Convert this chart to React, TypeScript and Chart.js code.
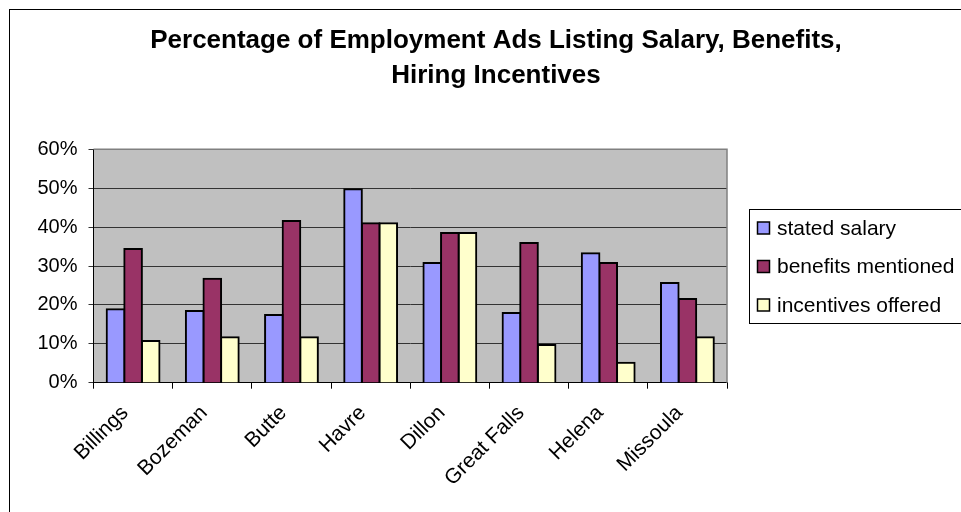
import React, { useEffect, useRef } from 'react';
import { Chart, registerables } from 'chart.js';

Chart.register(...registerables);

const categories = ['Billings', 'Bozeman', 'Butte', 'Havre', 'Dillon', 'Great Falls', 'Helena', 'Missoula'];
const statedSalary = [18.9, 18.4, 17.4, 49.7, 30.8, 17.9, 33.3, 25.6];
const benefitsMentioned = [34.4, 26.7, 41.6, 41.0, 38.5, 35.9, 30.8, 21.5];
const incentivesOffered = [10.7, 11.7, 11.7, 41.0, 38.5, 9.7, 5.1, 11.7];
const seriesLabels = ['stated salary', 'benefits mentioned', 'incentives offered'];
const seriesColors = ['#9999FF', '#993366', '#FFFFCC'];
const titleLines = ['Percentage of Employment Ads Listing Salary, Benefits,', 'Hiring Incentives'];
const yMin = 0;
const yMax = 60;
const yStep = 10;

const FONT = '"Liberation Sans", Arial, sans-serif';

const framePlugin = {
  id: 'framePlugin',
  beforeDraw(chart: any) {
    const { ctx, chartArea: a } = chart;
    ctx.save();
    ctx.fillStyle = '#ffffff';
    ctx.fillRect(0, 0, chart.width, chart.height);
    ctx.fillStyle = '#C0C0C0';
    ctx.fillRect(a.left, a.top, a.right - a.left, a.bottom - a.top);
    ctx.restore();
  },
  afterDraw(chart: any) {
    const { ctx, chartArea: a } = chart;
    ctx.save();
    ctx.strokeStyle = '#808080';
    ctx.lineWidth = 1.5;
    ctx.beginPath();
    ctx.moveTo(a.left, a.top);
    ctx.lineTo(a.right, a.top);
    ctx.lineTo(a.right, a.bottom);
    ctx.stroke();
    // outer chart border
    ctx.strokeStyle = '#000';
    ctx.lineWidth = 1;
    ctx.strokeRect(9.5, 9.5, chart.width, chart.height);
    // legend
    const lx = 749.5;
    const ly = 209.5;
    ctx.strokeRect(lx, ly, chart.width, 114);
    ctx.font = '21px ' + FONT;
    ctx.textBaseline = 'middle';
    ctx.textAlign = 'left';
    chart.data.datasets.forEach((ds: any, i: number) => {
      const cy = 228 + i * 38.5;
      ctx.fillStyle = ds.backgroundColor;
      ctx.fillRect(757.5, cy - 6, 12, 12);
      ctx.strokeStyle = '#000';
      ctx.lineWidth = 1.5;
      ctx.strokeRect(757.5, cy - 6, 12, 12);
      ctx.fillStyle = '#000';
      ctx.fillText(ds.label, 777, cy + 1);
    });
    ctx.restore();
  },
};

export default function App() {
  const ref = useRef<HTMLCanvasElement | null>(null);

  useEffect(() => {
    if (!ref.current) return;
    Chart.defaults.font.family = FONT;
    const seriesValues = [statedSalary, benefitsMentioned, incentivesOffered];
    const chart = new Chart(ref.current, {
      type: 'bar',
      data: {
        labels: categories,
        datasets: seriesValues.map((vals, i) => ({
          label: seriesLabels[i],
          data: vals,
          backgroundColor: seriesColors[i],
          borderColor: '#000',
          borderWidth: 2,
          inflateAmount: 1,
          barPercentage: 1,
          categoryPercentage: 0.667,
          yAxisID: 'y',
        })),
      },
      options: {
        responsive: false,
        animation: false,
        layout: { padding: { left: 31, right: 0, top: 0, bottom: 0 } },
        plugins: {
          legend: { display: false },
          tooltip: { enabled: false },
          title: {
            display: true,
            text: titleLines,
            color: '#000',
            font: { size: 26, weight: 'bold', family: FONT, lineHeight: 35 / 26 },
            padding: { top: 23.5, bottom: 55.8 },
          },
        },
        scales: {
          x: {
            grid: {
              display: true,
              drawOnChartArea: false,
              drawTicks: true,
              tickLength: 6,
              color: '#000',
              offset: true,
            },
            border: { display: true, color: '#000', width: 1 },
            ticks: {
              autoSkip: false,
              maxRotation: 45,
              minRotation: 45,
              color: '#000',
              font: { size: 21, family: FONT },
              padding: 12,
              labelOffset: -8,
            },
            afterFit(s: any) {
              s.height = 129.3;
            },
          },
          y: {
            min: yMin,
            max: yMax,
            ticks: {
              stepSize: yStep,
              color: '#000',
              font: { size: 20, family: FONT },
              padding: 11,
              callback: (v: any) => v + '%',
            },
            grid: { color: '#333', tickLength: 5, drawTicks: true, lineWidth: 1 },
            border: { display: true, color: '#000', width: 1 },
            afterFit(s: any) {
              s.width = 62.5;
            },
          },
          yRight: {
            type: 'linear',
            position: 'right',
            display: true,
            grid: { display: false, drawTicks: false },
            border: { display: false },
            ticks: { display: false },
            afterFit(s: any) {
              s.width = 234;
            },
          },
        },
      },
      plugins: [framePlugin],
    } as any);
    return () => chart.destroy();
  }, []);

  return (
    <div style={{ position: 'fixed', left: 0, top: 0, width: 961, height: 512, background: '#fff' }}>
      <canvas ref={ref} width={961} height={512} style={{ display: 'block' }} />
    </div>
  );
}
